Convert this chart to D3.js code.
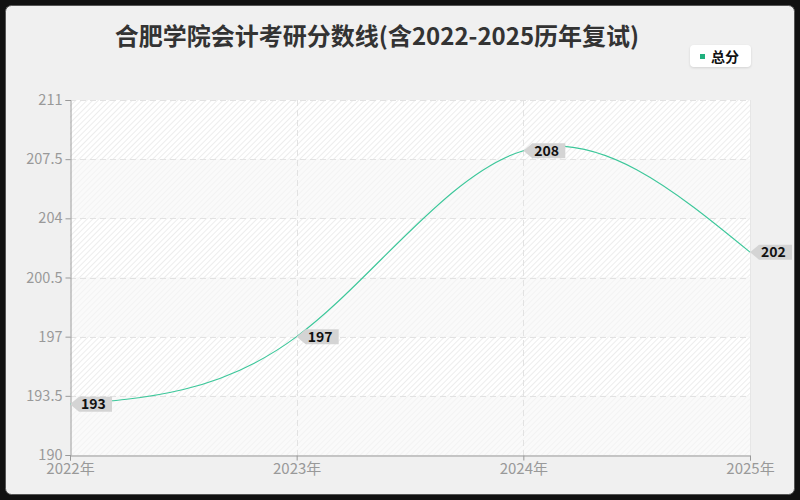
<!DOCTYPE html>
<html><head><meta charset="utf-8">
<script src="https://cdn.jsdelivr.net/npm/d3@7"></script>
<style>
html,body{margin:0;padding:0;background:#000;}
svg{display:block;}
</style></head>
<body>
<svg id="c" width="800" height="500"></svg>
<script>
const title = "合肥学院会计考研分数线(含2022-2025历年复试)";
const categories = ["2022年","2023年","2024年","2025年"];
const seriesName = "总分";
const values = [193, 197, 208, 202];
const yTicks = [190, 193.5, 197, 200.5, 204, 207.5, 211];

const svg = d3.select("#c");
const W = 800, H = 500;
const m = {left:70, right:750, top:100, bottom:455};
const font = "'Noto Sans CJK SC','Noto Sans',sans-serif";
const lineColor = "#3cc79a";

// outer frame
svg.append("rect").attr("x",0).attr("y",0).attr("width",W).attr("height",H).attr("fill","#111");
svg.append("rect").attr("x",5.5).attr("y",5.5).attr("width",789).attr("height",489)
  .attr("rx",6).attr("fill","#f0f0f0").attr("stroke","#555").attr("stroke-width",1);

const defs = svg.append("defs");
const pat = defs.append("pattern").attr("id","hatch").attr("patternUnits","userSpaceOnUse")
  .attr("width",4).attr("height",4).attr("patternTransform","rotate(45)");
pat.append("rect").attr("width",4).attr("height",4).attr("fill","#ffffff");
pat.append("line").attr("x1",0).attr("y1",0).attr("x2",0).attr("y2",4)
  .attr("stroke","#e4e4e4").attr("stroke-width",1.3);
const pat2 = defs.append("pattern").attr("id","hatch2").attr("patternUnits","userSpaceOnUse")
  .attr("width",4).attr("height",4).attr("patternTransform","rotate(45)");
pat2.append("rect").attr("width",4).attr("height",4).attr("fill","#fafafa");
pat2.append("line").attr("x1",0).attr("y1",0).attr("x2",0).attr("y2",4)
  .attr("stroke","#f0f0f0").attr("stroke-width",1.3);

const x = d3.scalePoint().domain(categories).range([m.left, m.right]);
const y = d3.scaleLinear().domain([190, 211]).range([m.bottom, m.top]);

// split area bands
for (let i = 0; i < yTicks.length - 1; i++) {
  const y0 = y(yTicks[i+1]), y1 = y(yTicks[i]);
  const fromTop = yTicks.length - 2 - i;
  svg.append("rect").attr("x", m.left).attr("y", y0).attr("width", m.right - m.left)
    .attr("height", y1 - y0).attr("fill", fromTop % 2 === 0 ? "url(#hatch)" : "url(#hatch2)");
}

// grid
svg.append("g").selectAll("line").data(yTicks.slice(1)).join("line")
  .attr("x1", m.left).attr("x2", m.right)
  .attr("y1", d => Math.round(y(d)) + 0.5).attr("y2", d => Math.round(y(d)) + 0.5)
  .attr("stroke", "#e2e2e2").attr("stroke-dasharray", "6,4");
svg.append("g").selectAll("line").data(categories.slice(1, 3)).join("line")
  .attr("y1", m.top).attr("y2", m.bottom)
  .attr("x1", d => Math.round(x(d)) + 0.5).attr("x2", d => Math.round(x(d)) + 0.5)
  .attr("stroke", "#e2e2e2").attr("stroke-dasharray", "6,4");
svg.append("line").attr("x1", m.right + 0.5).attr("x2", m.right + 0.5).attr("y1", m.top).attr("y2", m.bottom)
  .attr("stroke", "#e6e6e6");

// axes
const yAxis = svg.append("g").attr("transform", `translate(${m.left + 0.5},0)`)
  .call(d3.axisLeft(y).tickValues(yTicks).tickSize(5).tickPadding(3).tickFormat(d => d3.format("")(d)));
const xAxis = svg.append("g").attr("transform", `translate(0,${m.bottom + 0.5})`)
  .call(d3.axisBottom(x).tickSize(5).tickPadding(3));
[yAxis, xAxis].forEach(g => {
  g.select(".domain").attr("stroke", "#999");
  g.selectAll(".tick line").attr("stroke", "#999");
  g.selectAll(".tick text").attr("fill", "#999").style("font-family", font);
});
yAxis.selectAll(".tick text").style("font-size", "14.5px");
xAxis.selectAll(".tick text").style("font-size", "15px");

// line (smooth natural spline)
const line = d3.line().x((d, i) => x(categories[i])).y(d => y(d)).curve(d3.curveNatural);
svg.append("path").datum(values).attr("d", line).attr("fill", "none")
  .attr("stroke", lineColor).attr("stroke-width", 1.1);

// labels
const lab = svg.append("g").selectAll("g").data(values).join("g")
  .attr("transform", (d, i) => `translate(${x(categories[i])},${y(d)})`);
lab.append("path").attr("d", "M0,0 L9,-7.5 L42,-7.5 L42,7.5 L9,7.5 Z").attr("fill", "#d4d4d4");
lab.append("text").attr("x", 11).attr("y", 5).text(d => d)
  .style("font-family", font).style("font-size", "14px").style("font-weight", "bold").attr("fill", "#111");

// title
svg.append("text").attr("x", 377).attr("y", 45).attr("text-anchor", "middle").text(title)
  .style("font-family", font).style("font-size", "24px").style("font-weight", "bold").attr("fill", "#333");

// legend
const lg = svg.append("g").attr("transform", "translate(690,45)");
lg.append("rect").attr("width", 61).attr("height", 22).attr("rx", 4).attr("fill", "#fff")
  .style("filter", "drop-shadow(0px 1px 1px rgba(0,0,0,0.12))");
lg.append("rect").attr("x", 10).attr("y", 9).attr("width", 5).attr("height", 5).attr("fill", "#20b07e");
lg.append("text").attr("x", 21).attr("y", 16.5).text(seriesName)
  .style("font-family", font).style("font-size", "14px").style("font-weight", "bold").attr("fill", "#111");
</script>
</body></html>
